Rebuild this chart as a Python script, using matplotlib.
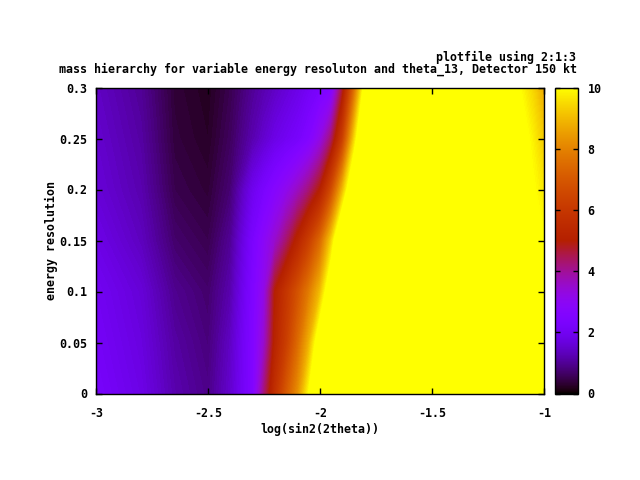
import numpy as np
import matplotlib
matplotlib.use('Agg')
import matplotlib.pyplot as plt
from matplotlib.colors import ListedColormap, Normalize
from matplotlib.cm import ScalarMappable

x_vals = [-3, -2.8, -2.65, -2.5, -2.4, -2.3, -2.25, -2.2, -2.15, -2.1, -2.05, -2.0,
          -1.95, -1.9, -1.85, -1.8, -1.7, -1.4, -1.1, -1.05, -1.0]
y_vals = [0, 0.05, 0.1, 0.15, 0.2, 0.25, 0.3]
z_row_000 = [2.2, 1.8, 1.2, 0.9, 1.5, 2.5, 4.2, 5.7, 7.0, 8.2, 10.0, 12, 14, 15, 16, 17, 18, 18, 16, 15, 14]
z_row_005 = [2.1, 1.7, 1.1, 0.8, 1.4, 2.5, 3.5, 5.2, 6.2, 7.4, 8.8, 10.8, 13, 15, 16, 17, 18, 18, 16, 15, 14]
z_row_010 = [2.0, 1.6, 0.95, 0.7, 1.2, 2.45, 3.2, 5.0, 5.9, 6.8, 7.8, 9.0, 11.0, 14, 16, 17, 18, 18, 15, 14, 13]
z_row_015 = [1.8, 1.35, 0.7, 0.5, 1.0, 2.3, 2.9, 3.5, 4.3, 5.2, 6.2, 7.4, 9.3, 11.8, 14, 16, 18, 17, 11, 10.4, 10.0]
z_row_020 = [1.6, 1.2, 0.5, 0.35, 0.75, 1.9, 2.3, 2.7, 3.1, 3.6, 4.2, 5.0, 6.6, 8.9, 11.4, 14, 16, 15, 10.6, 10.05, 9.65]
z_row_025 = [1.5, 1.1, 0.4, 0.25, 0.6, 1.2, 1.5, 1.8, 2.0, 2.2, 2.55, 3.2, 4.3, 6.2, 9.2, 12, 15, 14, 10.3, 9.8, 9.2]
z_row_030 = [1.4, 1.0, 0.35, 0.2, 0.5, 1.0, 1.2, 1.4, 1.6, 1.8, 2.05, 2.3, 2.55, 4.6, 7.3, 10.4, 14, 13, 9.9, 9.4, 8.7]
x_ticks = [-3, -2.5, -2, -1.5, -1]
x_labels = ['-3', '-2.5', '-2', '-1.5', '-1']
y_ticks = [0, 0.05, 0.1, 0.15, 0.2, 0.25, 0.3]
y_labels = ['0', '0.05', '0.1', '0.15', '0.2', '0.25', '0.3']
c_ticks = [0, 2, 4, 6, 8, 10]

FONT = 'DejaVu Sans Mono'
FS = 8.35
plt.rcParams['font.family'] = FONT
plt.rcParams['font.weight'] = 'bold'

t = np.linspace(0, 1, 512)
palette = ListedColormap(np.column_stack([np.sqrt(t), t**3, np.clip(np.sin(2*np.pi*t), 0, 1)]))
palette.set_over(palette(1.0))
palette.set_under(palette(0.0))

z = np.array([z_row_000, z_row_005, z_row_010, z_row_015, z_row_020, z_row_025, z_row_030])

W, H = 640, 480
fig = plt.figure(figsize=(W/100, H/100), dpi=100, facecolor='white')
L, R, T, B = 96, 544, 87.5, 393.5
ax = fig.add_axes([L/W, (H-B)/H, (R-L)/W, (B-T)/H])
ax.contourf(x_vals, y_vals, z, levels=np.linspace(0, 10, 161), cmap=palette,
            norm=Normalize(0, 10), extend='both', antialiased=False)
ax.set_xlim(-3, -1)
ax.set_ylim(0, 0.3)
ax.set_xticks(x_ticks, x_labels)
ax.set_yticks(y_ticks, y_labels)
ax.tick_params(direction='in', top=True, right=True, length=4.5, width=1, labelsize=FS, color='black', pad=6)
ax.tick_params(axis='x', pad=10)
for s in ax.spines.values():
    s.set_linewidth(1)

CL, CR = 555, 578
cax = fig.add_axes([CL/W, (H-B)/H, (CR-CL)/W, (B-T)/H])
cb = fig.colorbar(ScalarMappable(Normalize(0, 10), palette), cax=cax)
cb.set_ticks(c_ticks, labels=[str(c) for c in c_ticks])
cax.tick_params(direction='in', left=True, right=True, length=3.5, width=1, labelsize=FS, pad=7)
cb.outline.set_linewidth(1)

def px_text(x, y, s, **kw):
    fig.text(x/W, 1-y/H, s, fontsize=FS, va='center', **kw)

px_text(576, 57, 'plotfile using 2:1:3', ha='right')
px_text(577, 69, 'mass hierarchy for variable energy resoluton and theta_13, Detector 150 kt', ha='right')
px_text(320, 429, 'log(sin2(2theta))', ha='center')
px_text(51, 240, 'energy resolution', ha='center', rotation=90)

fig.savefig('out.png', dpi=100)
